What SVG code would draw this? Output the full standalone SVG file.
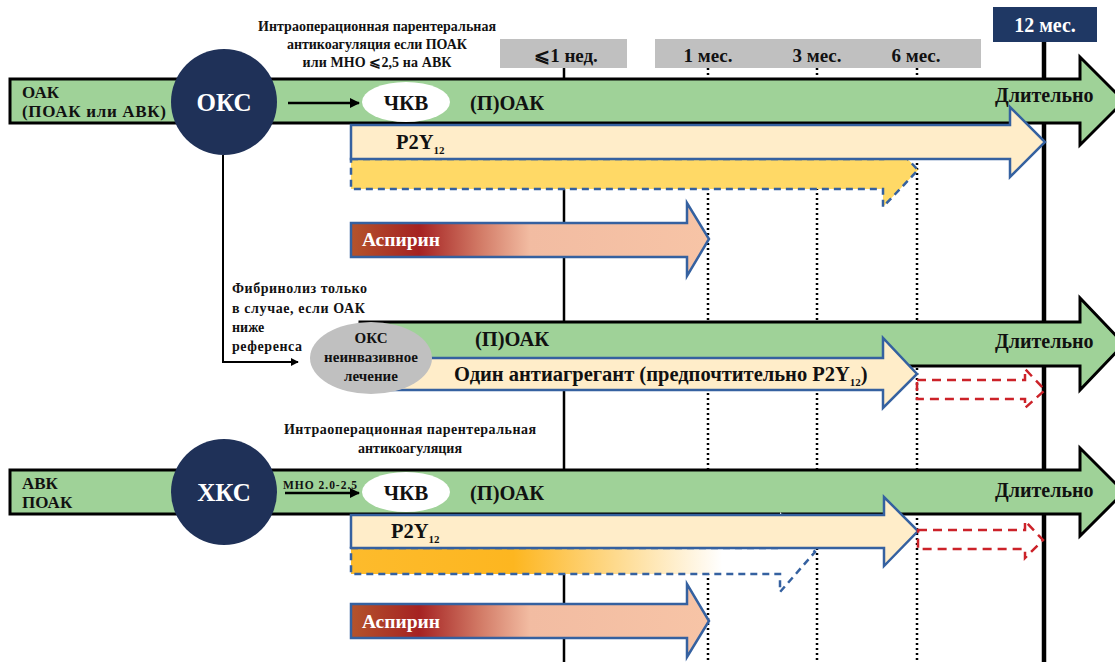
<svg xmlns="http://www.w3.org/2000/svg" width="1115" height="662" viewBox="0 0 1115 662" font-family="'Liberation Serif', 'DejaVu Serif', serif" font-weight="bold">
<style>
text{font-family:"Liberation Serif","DejaVu Serif",serif;font-weight:700;fill:#111}
.w{fill:#fff}
.green{fill:#9fd298;stroke:#000;stroke-width:3}
.p2y{fill:#ffedc9;stroke:#3561a0;stroke-width:2.5}
.dash{stroke:#3561a0;stroke-width:2.5;stroke-dasharray:7,5}
.red{fill:none;stroke:#cc2229;stroke-width:2.5;stroke-dasharray:9,6}
.asp{fill:url(#aspG);stroke:#3561a0;stroke-width:2.5}
.navy{fill:#1f3158}
.gray{fill:#c0c0c0}
.dot{stroke:#000;stroke-width:2.5;stroke-dasharray:2,3}
.l{font-size:19px}
.s13{font-size:14px}
.big{font-size:20.5px}
.sub{font-size:11px}
</style>
<defs>
<linearGradient id="aspG" x1="351" y1="0" x2="709" y2="0" gradientUnits="userSpaceOnUse">
<stop offset="0" stop-color="#b4542c"/>
<stop offset="0.19" stop-color="#a52222"/>
<stop offset="0.36" stop-color="#d27a66"/>
<stop offset="0.5" stop-color="#f2bca2"/>
<stop offset="1" stop-color="#f7c4a6"/>
</linearGradient>
<linearGradient id="orG" x1="351" y1="0" x2="815" y2="0" gradientUnits="userSpaceOnUse">
<stop offset="0" stop-color="#fdbb2c"/>
<stop offset="0.35" stop-color="#fdb620"/>
<stop offset="0.8" stop-color="#ffffff"/>
</linearGradient>
<marker id="ah" viewBox="0 0 10 10" refX="9" refY="5" markerWidth="4" markerHeight="4" orient="auto" markerUnits="strokeWidth">
<path d="M0,0 L10,5 L0,10 z" fill="#000"/>
</marker>
</defs>

<!-- time axis -->
<g id="axis">
<rect id="lab-1w" class="gray" x="500" y="39" width="127" height="29"/>
<text x="566" y="62" class="l" text-anchor="middle">⩽1 нед.</text>
<rect id="lab-months" class="gray" x="655" y="39" width="326" height="29"/>
<text x="708" y="62" class="l" text-anchor="middle">1 мес.</text>
<text x="817" y="62" class="l" text-anchor="middle">3 мес.</text>
<text x="916" y="62" class="l" text-anchor="middle">6 мес.</text>
<rect id="lab-12" x="993" y="7" width="104" height="35" fill="#1f3864"/>
<text x="1045" y="32" class="l w" text-anchor="middle" style="font-size:20px">12 мес.</text>
<line x1="564" y1="68" x2="564" y2="662" stroke="#000" stroke-width="2.5"/>
<line class="dot" x1="708" y1="68" x2="708" y2="662"/>
<line class="dot" x1="817" y1="68" x2="817" y2="662"/>
<line class="dot" x1="917" y1="68" x2="917" y2="662"/>
<line x1="1044" y1="42" x2="1044" y2="662" stroke="#000" stroke-width="4.5"/>
</g>

<!-- Section 1: OKS with OAC -->
<g id="oac-top">
<path class="green" d="M10,79 H1080 V57 L1124,101 L1080,145 V123 H10 Z"/>
<text x="22" y="98" style="font-size:17px">ОАК</text>
<text x="22" y="117" style="font-size:17px" textLength="144">(ПОАК или АВК)</text>
<text x="470" y="110" class="big">(П)ОАК</text>
<text x="995" y="102" style="font-size:20px">Длительно</text>
</g>
<g id="p2y-top-ext">
<path class="dash" fill="#ffd966" d="M351,159 H883 V133 L918,170 L883,207 V189 H351 Z"/>
</g>
<g id="p2y-top">
<path class="p2y" d="M351,125 H1010 V107 L1045,142 L1010,177 V159 H351 Z"/>
<text x="396" y="149" class="big">P2Y<tspan dy="5" class="sub">12</tspan></text>
</g>
<g id="aspirin-top">
<path class="asp" d="M351,223 H687 V203 L709,239 L687,276 V257 H351 Z"/>
<text x="362" y="246" class="w" style="font-size:19.5px">Аспирин</text>
</g>
<g id="note-top">
<text x="377" y="31" class="s13" text-anchor="middle" textLength="238">Интраоперационная парентеральная</text>
<text x="377" y="49" class="s13" text-anchor="middle" textLength="180">антикоагуляция если ПОАК</text>
<text x="377" y="67" class="s13" text-anchor="middle" textLength="149">или МНО ⩽2,5 на АВК</text>
</g>

<!-- Section 2: conservative -->
<g id="oac-mid">
<path class="green" d="M360,322 H1080 V298 L1124,344 L1080,390 V366 H360 Z"/>
<text x="475" y="346" class="big">(П)ОАК</text>
<text x="995" y="348" style="font-size:20px">Длительно</text>
</g>
<g id="single-antiplatelet">
<path class="p2y" d="M360,358 H883 V338 L917,374 L883,408 V390 H360 Z"/>
<text x="454" y="381" class="big">Один антиагрегант (предпочтительно P2Y<tspan dy="5" class="sub">12</tspan><tspan dy="-5">)</tspan></text>
</g>
<g id="ext-mid">
<path class="red" d="M917,380 H1025 V369 L1045,390 L1025,408 V399 H917 Z"/>
</g>
<g id="oks-conservative">
<ellipse cx="371" cy="358" rx="61" ry="36" fill="#c0c0c0"/>
<text x="371" y="343" text-anchor="middle" style="font-size:15px">ОКС</text>
<text x="371" y="362" text-anchor="middle" style="font-size:15px">неинвазивное</text>
<text x="371" y="381" text-anchor="middle" style="font-size:15px">лечение</text>
</g>
<g id="note-fibrinolysis">
<text x="232" y="293" class="s13" textLength="135">Фибринолиз только</text>
<text x="232" y="313" class="s13" textLength="133">в случае, если ОАК</text>
<text x="232" y="332" class="s13">ниже</text>
<text x="232" y="351" class="s13" textLength="70">референса</text>
</g>

<!-- Section 3: CCS -->
<g id="oac-bottom">
<path class="green" d="M10,470 H1080 V448 L1124,492 L1080,536 V514 H10 Z"/>
<text x="22" y="489" style="font-size:17px">АВК</text>
<text x="22" y="508" style="font-size:17px">ПОАК</text>
<text x="470" y="500" class="big">(П)ОАК</text>
<text x="995" y="497" style="font-size:20px">Длительно</text>
</g>
<g id="p2y-bottom-ext">
<path class="dash" fill="url(#orG)" d="M351,548 H780 V512 L815,552 L780,592 V574 H351 Z"/>
</g>
<g id="p2y-bottom">
<path class="p2y" d="M351,515 H884 V497 L918,531 L884,566 V548 H351 Z"/>
<text x="391" y="538" class="big">P2Y<tspan dy="5" class="sub">12</tspan></text>
</g>
<g id="ext-bottom">
<path class="red" d="M918,530 H1025 V521 L1043,540 L1025,558 V549 H918 Z"/>
</g>
<g id="aspirin-bottom">
<path class="asp" d="M351,604 H687 V584 L709,621 L687,657 V638 H351 Z"/>
<text x="362" y="628" class="w" style="font-size:19.5px">Аспирин</text>
</g>
<g id="note-bottom">
<text x="410" y="434" class="s13" text-anchor="middle" textLength="252">Интраоперационная парентеральная</text>
<text x="410" y="453" class="s13" text-anchor="middle">антикоагуляция</text>
</g>

<!-- connectors -->
<g id="connectors" fill="none" stroke="#000" stroke-width="2.5">
<line x1="288" y1="103" x2="359" y2="103" marker-end="url(#ah)"/>
<path d="M223,155 V362 H298" stroke-width="2" marker-end="url(#ah)"/>
<line x1="285" y1="493" x2="359" y2="493" marker-end="url(#ah)"/>
</g>

<!-- nodes on top -->
<g id="oks">
<circle cx="224" cy="102" r="53" class="navy"/>
<text x="224" y="111" class="w" text-anchor="middle" style="font-size:25px">ОКС</text>
</g>
<g id="pci-top">
<ellipse cx="406" cy="102" rx="44" ry="20" fill="#fff"/>
<text x="406" y="110" text-anchor="middle" style="font-size:21px">ЧКВ</text>
</g>
<g id="ccs">
<circle cx="224" cy="492" r="53" class="navy"/>
<text x="224" y="501" class="w" text-anchor="middle" style="font-size:25px">ХКС</text>
</g>
<g id="pci-bottom">
<ellipse cx="406" cy="492" rx="44" ry="20" fill="#fff"/>
<text x="406" y="500" text-anchor="middle" style="font-size:21px">ЧКВ</text>
</g>
<g id="inr-label">
<text x="283" y="489" style="font-size:11.5px" textLength="74">МНО 2.0-2.5</text>
</g>
</svg>
